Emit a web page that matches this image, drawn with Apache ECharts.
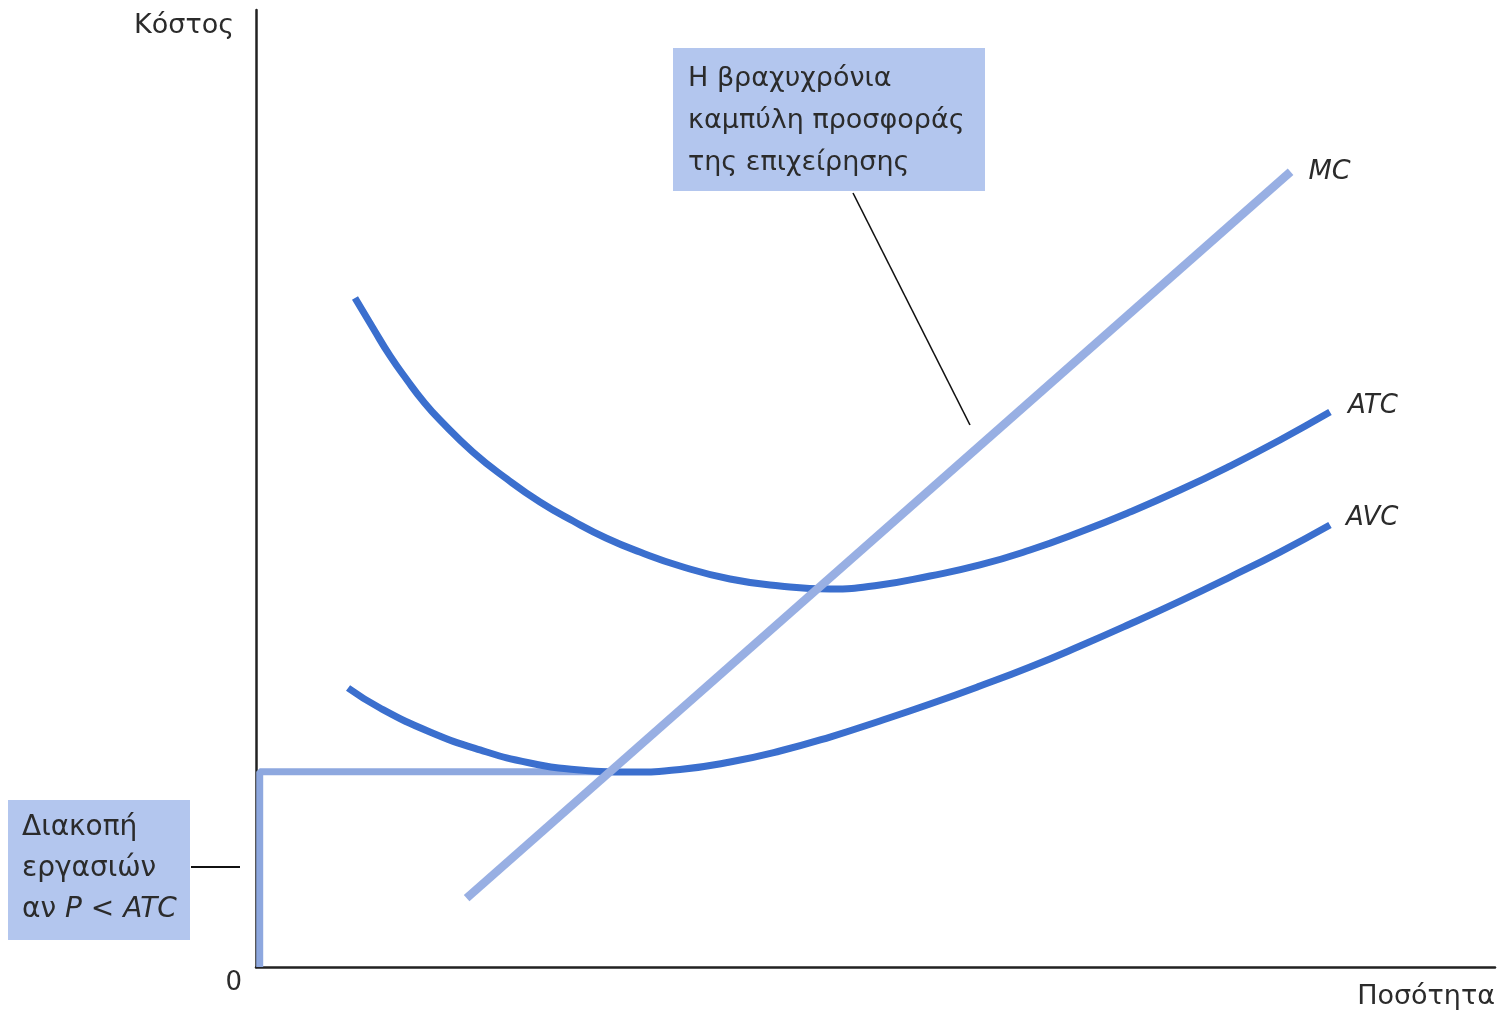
<!DOCTYPE html>
<html>
<head>
<meta charset="utf-8">
<title>Καμπύλη προσφοράς</title>
<script src="https://cdn.jsdelivr.net/npm/echarts@6/dist/echarts.min.js"></script>
<style>
  html, body { margin: 0; padding: 0; background: #fff; }
  #chart { width: 1504px; height: 1013px; }
</style>
</head>
<body>
<div id="chart"></div>
<script>
// Ποσότητα (x) και κόστος (y), κλίμακα 0-100
var atcQty = [7.99, 9.44, 10.82, 12.19, 13.48, 14.85, 17.51, 20.26, 22.92, 25.59, 28.25, 30.99, 34.22, 38.26, 42.29, 46.33, 50.36, 54.40, 58.43, 62.47, 66.51, 70.54, 74.58, 78.61, 82.65, 86.68]
var atc = [69.91, 66.77, 63.85, 61.34, 59.14, 57.16, 53.81, 50.99, 48.59, 46.60, 44.83, 43.36, 41.90, 40.54, 39.81, 39.50, 39.92, 40.86, 42.01, 43.57, 45.45, 47.54, 49.84, 52.35, 55.07, 57.99]
var avcQty = [7.43, 10.01, 14.04, 18.08, 22.11, 26.15, 30.18, 34.22, 38.26, 42.29, 46.33, 50.36, 54.40, 58.43, 62.47, 66.51, 70.54, 74.58, 78.61, 82.65, 86.68]
var avc = [29.15, 27.06, 24.56, 22.68, 21.32, 20.59, 20.38, 20.64, 21.42, 22.57, 24.03, 25.71, 27.48, 29.36, 31.35, 33.54, 35.84, 38.24, 40.75, 43.36, 46.19]
var mcQty = [17.0, 83.5]
var mc = [7.2, 83.1]
// βραχυχρόνια καμπύλη προσφοράς κάτω από το ελάχιστο AVC
var supplyQty = [0.3, 0.3, 28.4]
var supply = [0, 20.4, 20.4]

function pairs(xs, ys) {
  return xs.map(function (x, i) { return [x, ys[i]] })
}

var textColor = '#2b2b2b'
var boxColor = '#b3c6ee'
var font = '"DejaVu Sans", "Liberation Sans", sans-serif'

var chart = echarts.init(document.getElementById('chart'))

chart.setOption({
  animation: false,
  backgroundColor: '#fff',
  grid: { left: 256, right: 9, top: 10, bottom: 46 },
  xAxis: {
    type: 'value',
    min: 0,
    max: 100,
    name: 'Ποσότητα',
    nameLocation: 'end',
    nameGap: 0,
    nameTextStyle: {
      fontFamily: font, fontSize: 27, color: textColor,
      align: 'right', verticalAlign: 'top', padding: [16, 0, 0, 0]
    },
    axisLine: { lineStyle: { color: '#222', width: 2.5 } },
    axisTick: { show: false },
    axisLabel: { show: false },
    splitLine: { show: false }
  },
  yAxis: {
    type: 'value',
    min: 0,
    max: 100,
    interval: 100,
    name: 'Κόστος',
    nameLocation: 'end',
    nameGap: -2,
    nameTextStyle: {
      fontFamily: font, fontSize: 27, color: textColor,
      align: 'right', verticalAlign: 'top', padding: [0, 22, 0, 0]
    },
    axisLine: { show: true, lineStyle: { color: '#222', width: 2.5 } },
    axisTick: { show: false },
    axisLabel: {
      formatter: function (v) { return v === 0 ? '0' : '' },
      fontFamily: font, fontSize: 26, color: textColor,
      margin: 14, verticalAlign: 'top', padding: [3, 0, 0, 0]
    },
    splitLine: { show: false }
  },
  series: [
    {
      name: 'ATC',
      type: 'line',
      data: pairs(atcQty, atc),
      smooth: 0.5,
      symbol: 'none',
      lineStyle: { color: '#3b6fce', width: 7 },
      endLabel: {
        show: true, formatter: '{a}', distance: 18, offset: [0, -6],
        fontFamily: font, fontSize: 26, fontStyle: 'italic', color: textColor
      },
      z: 3
    },
    {
      name: 'AVC',
      type: 'line',
      data: pairs(avcQty, avc),
      smooth: 0.5,
      symbol: 'none',
      lineStyle: { color: '#3b6fce', width: 7 },
      endLabel: {
        show: true, formatter: '{a}', distance: 16, offset: [0, -7],
        fontFamily: font, fontSize: 26, fontStyle: 'italic', color: textColor
      },
      z: 3
    },
    {
      name: 'Προσφορά',
      type: 'line',
      data: pairs(supplyQty, supply),
      symbol: 'none',
      lineStyle: { color: '#8ea8df', width: 7 },
      z: 2
    },
    {
      name: 'MC',
      type: 'line',
      data: pairs(mcQty, mc),
      symbol: 'none',
      lineStyle: { color: '#98afe3', width: 8.5 },
      endLabel: {
        show: true, formatter: '{a}', distance: 18, offset: [0, 0],
        fontFamily: font, fontSize: 27, fontStyle: 'italic', color: textColor
      },
      z: 4
    }
  ],
  graphic: [
    // πλαίσιο: βραχυχρόνια καμπύλη προσφοράς
    {
      type: 'rect', left: 673, top: 48, shape: { width: 312, height: 143 },
      style: { fill: boxColor }, z: 10
    },
    {
      type: 'text', left: 688, top: 58, z: 11,
      style: {
        text: 'Η βραχυχρόνια\nκαμπύλη προσφοράς\nτης επιχείρησης',
        fontFamily: font, fontSize: 27, lineHeight: 42, fill: textColor
      }
    },
    {
      type: 'line', z: 10,
      shape: { x1: 853, y1: 193, x2: 970, y2: 425 },
      style: { stroke: '#111', lineWidth: 1.6 }
    },
    // πλαίσιο: διακοπή εργασιών
    {
      type: 'rect', left: 8, top: 800, shape: { width: 182, height: 140 },
      style: { fill: boxColor }, z: 10
    },
    {
      type: 'text', left: 22, top: 807, z: 11,
      style: {
        text: 'Διακοπή\nεργασιών\nαν {i|P} < {i|ATC}',
        fontFamily: font, fontSize: 28, lineHeight: 41, fill: textColor,
        rich: { i: { fontFamily: font, fontSize: 28, fontStyle: 'italic', fill: textColor } }
      }
    },
    {
      type: 'line', z: 10,
      shape: { x1: 191, y1: 867, x2: 240, y2: 867 },
      style: { stroke: '#111', lineWidth: 2 }
    }
  ]
})
</script>
</body>
</html>
